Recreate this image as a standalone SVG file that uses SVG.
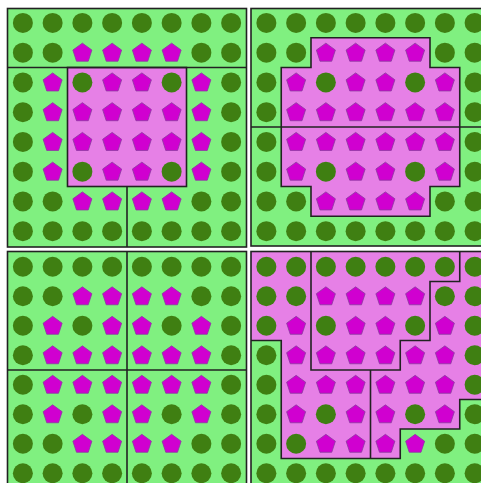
<svg xmlns="http://www.w3.org/2000/svg" xmlns:xlink="http://www.w3.org/1999/xlink" width="481" height="483" viewBox="0 0 481 483">
<style>
.bg{fill:#80f080}
.pk{fill:#e680e6}
.ln{fill:none;stroke:#222;stroke-width:1.6}
.cir{fill:#3f7f12}
.pen{fill:#d000d0;stroke:#8a3aa0;stroke-width:0.8}
</style>
<defs>
<circle id="c" class="cir" r="10"/>
<path id="p" class="pen" d="M0,-9.5 L9.51,-2.59 L5.88,8.59 L-5.88,8.59 L-9.51,-2.59 Z"/>
<g id="rA"><use href="#c" x="14.875"/><use href="#c" x="44.625"/><use href="#c" x="74.375"/><use href="#c" x="104.125"/><use href="#c" x="133.875"/><use href="#c" x="163.625"/><use href="#c" x="193.375"/><use href="#c" x="223.125"/></g>
<g id="rB"><use href="#c" x="14.875"/><use href="#c" x="44.625"/><use href="#p" x="74.375"/><use href="#p" x="104.125"/><use href="#p" x="133.875"/><use href="#p" x="163.625"/><use href="#c" x="193.375"/><use href="#c" x="223.125"/></g>
<g id="rC"><use href="#c" x="14.875"/><use href="#p" x="44.625"/><use href="#c" x="74.375"/><use href="#p" x="104.125"/><use href="#p" x="133.875"/><use href="#c" x="163.625"/><use href="#p" x="193.375"/><use href="#c" x="223.125"/></g>
<g id="rD"><use href="#c" x="14.875"/><use href="#p" x="44.625"/><use href="#p" x="74.375"/><use href="#p" x="104.125"/><use href="#p" x="133.875"/><use href="#p" x="163.625"/><use href="#p" x="193.375"/><use href="#c" x="223.125"/></g>
<g id="grid">
<use href="#rA" y="14.875"/><use href="#rB" y="44.625"/><use href="#rC" y="74.375"/><use href="#rD" y="104.125"/>
<use href="#rD" y="133.875"/><use href="#rC" y="163.625"/><use href="#rB" y="193.375"/><use href="#rA" y="223.125"/>
</g>
</defs>
<rect width="481" height="483" fill="#ffffff"/>
<g id="panel1">
<rect class="bg" x="7.5" y="8.5" width="239" height="238.5"/>
<rect class="pk" x="67.5" y="67.5" width="119" height="119"/>
<use href="#grid" transform="translate(8,8)"/>
<g id="panel1-lines">
<line class="ln" x1="7.5" y1="67.5" x2="246.5" y2="67.5"/>
<rect class="ln" x="67.5" y="67.5" width="119" height="119"/>
<line class="ln" x1="127" y1="186.5" x2="127" y2="247"/>
</g>
<rect class="ln" x="7.5" y="8.5" width="239" height="238.5"/>
</g>
<g id="panel2">
<rect class="bg" x="251" y="8.5" width="240" height="237.5"/>
<path class="pk" d="M311,37.75 H430 V67.5 H459.75 V186.5 H430 V216.25 H311 V186.5 H281.25 V67.5 H311 Z"/>
<use href="#grid" transform="translate(251.5,8)"/>
<g id="panel2-lines">
<path class="ln" d="M311,37.75 H430 V67.5 H459.75 V186.5 H430 V216.25 H311 V186.5 H281.25 V67.5 H311 Z"/>
<line class="ln" x1="251" y1="127" x2="481" y2="127"/>
</g>
<rect class="ln" x="251" y="8.5" width="240" height="237.5"/>
</g>
<g id="panel3">
<rect class="bg" x="7.5" y="251.5" width="239" height="240"/>
<use href="#grid" transform="translate(8,252) scale(1,0.9916)"/>
<g id="panel3-lines">
<line class="ln" x1="127" y1="251.5" x2="127" y2="483"/>
<line class="ln" x1="7.5" y1="370" x2="246.5" y2="370"/>
</g>
<rect class="ln" x="7.5" y="251.5" width="239" height="240"/>
</g>
<g id="panel4">
<rect class="bg" x="251" y="251.5" width="240" height="240"/>
<path class="pk" d="M251,251.5 H491 V399.5 H459.75 V429 H400.25 V458.5 H281.25 V340.5 H251 Z"/>
<use href="#grid" transform="translate(251.5,252) scale(1,0.9916)"/>
<g id="panel4-lines">
<path class="ln" d="M251,340.5 H281.25 V458.5 H400.25 V429 H459.75 V399.5 H491"/>
<path class="ln" d="M311,251.5 V370 H400.25 V340.5 H430 V281.5 H459.75 V251.5"/>
<line class="ln" x1="370.5" y1="370" x2="370.5" y2="458.5"/>
</g>
<rect class="ln" x="251" y="251.5" width="240" height="240"/>
</g>
</svg>
